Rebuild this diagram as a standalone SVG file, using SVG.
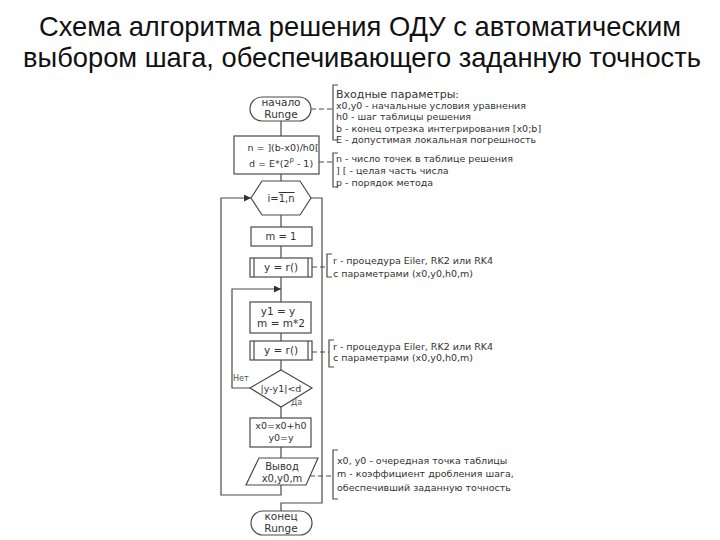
<svg xmlns="http://www.w3.org/2000/svg" width="720" height="540" viewBox="0 0 720 540">
<defs>
<marker id="arr" viewBox="0 0 8 8" refX="8" refY="4" markerWidth="7" markerHeight="7" orient="auto" markerUnits="userSpaceOnUse">
<path d="M0,0 L8,4 L0,8 z" fill="#333"/>
</marker>
<style>
.title{font-family:"Liberation Sans",Arial,sans-serif;font-size:27.3px;fill:#111;text-anchor:middle}
.shape{fill:#fff;stroke:#4a4a4a;stroke-width:1.2}
.ln{fill:none;stroke:#4a4a4a;stroke-width:1.2}
.dash{fill:none;stroke:#4a4a4a;stroke-width:1.1;stroke-dasharray:5 3}
.t{font-family:"DejaVu Sans","Liberation Sans",sans-serif;font-size:10px;fill:#333;text-anchor:middle}
.tb{font-family:"DejaVu Sans","Liberation Sans",sans-serif;font-size:10.5px;fill:#333;text-anchor:middle}
.ts{font-family:"DejaVu Sans","Liberation Sans",sans-serif;font-size:9.5px;fill:#333;text-anchor:middle}
.a{font-family:"DejaVu Sans","Liberation Sans",sans-serif;font-size:9.5px;fill:#333}
.ah{font-family:"DejaVu Sans","Liberation Sans",sans-serif;font-size:11px;fill:#333}
.lbl{font-family:"DejaVu Sans","Liberation Sans",sans-serif;font-size:8px;fill:#555}
</style>
</defs>
<rect width="720" height="540" fill="#fff"/>
<text class="title" x="360" y="36">Схема алгоритма решения ОДУ с автоматическим</text>
<text class="title" x="362" y="67">выбором шага, обеспечивающего заданную точность</text>

<g id="connectors">
<line class="ln" x1="281" y1="121" x2="281" y2="136"/>
<line class="ln" x1="281" y1="174" x2="281" y2="181"/>
<line class="ln" x1="281" y1="215" x2="281" y2="227"/>
<line class="ln" x1="281" y1="246" x2="281" y2="258"/>
<line class="ln" x1="281" y1="277" x2="281" y2="302"/>
<line class="ln" x1="281" y1="333" x2="281" y2="341"/>
<line class="ln" x1="281" y1="360" x2="281" y2="370"/>
<line class="ln" x1="281" y1="407" x2="281" y2="418"/>
<line class="ln" x1="281" y1="447" x2="281" y2="458"/>
<polyline class="ln" points="281,485 281,495 221,495 221,198 251,198" marker-end="url(#arr)"/>
<polyline class="ln" points="311,198 322,198 322,503 281,503 281,511"/>
<polyline class="ln" points="250,388 232,388 232,289 281,289" marker-end="url(#arr)"/>
<line class="dash" x1="311" y1="109" x2="333" y2="109"/>
<line class="dash" x1="319" y1="162" x2="333" y2="162"/>
<line class="dash" x1="312" y1="267" x2="327" y2="267"/>
<line class="dash" x1="312" y1="352" x2="329" y2="352"/>
<line class="dash" x1="310" y1="476" x2="333" y2="476"/>
<text class="lbl" x="233" y="381">Нет</text>
<text class="lbl" x="291" y="405">Да</text>
</g>

<g id="start">
<rect class="shape" x="250" y="97" width="61" height="24" rx="12"/>
<text class="tb" x="281" y="106">начало</text>
<text class="tb" x="281" y="118">Runge</text>
</g>
<g id="init">
<rect class="shape" x="234" y="136" width="85" height="38"/>
<text class="ts" x="283" y="151">n = ](b-x0)/h0[</text>
<text class="ts" x="281" y="167">d = E*(2<tspan dy="-5" font-size="7">p</tspan><tspan dy="5"> - 1)</tspan></text>
</g>
<g id="loop">
<polygon class="shape" points="251,198 262,181 300,181 311,198 300,215 262,215"/>
<text class="t" x="281" y="202">i=<tspan text-decoration="overline">1,n</tspan></text>
</g>
<g id="m1">
<rect class="shape" x="251" y="227" width="61" height="19"/>
<text class="t" x="281" y="240">m = 1</text>
</g>
<g id="call1">
<rect class="shape" x="250" y="258" width="62" height="19"/>
<line class="ln" x1="254" y1="258" x2="254" y2="277"/>
<line class="ln" x1="308" y1="258" x2="308" y2="277"/>
<text class="tb" x="281" y="271">y = r()</text>
</g>
<g id="halve">
<rect class="shape" x="250" y="302" width="61" height="31"/>
<text class="tb" x="278" y="315">y1 = y</text>
<text class="tb" x="281" y="327">m = m*2</text>
</g>
<g id="call2">
<rect class="shape" x="250" y="341" width="62" height="19"/>
<line class="ln" x1="254" y1="341" x2="254" y2="360"/>
<line class="ln" x1="308" y1="341" x2="308" y2="360"/>
<text class="tb" x="281" y="354">y = r()</text>
</g>
<g id="check">
<polygon class="shape" points="281,370 312,388 281,407 250,388"/>
<text class="ts" x="281" y="392">|y-y1|&lt;d</text>
</g>
<g id="step">
<rect class="shape" x="250" y="418" width="61" height="29"/>
<text class="ts" x="281" y="429">x0=x0+h0</text>
<text class="ts" x="281" y="441">y0=y</text>
</g>
<g id="output">
<polygon class="shape" points="259,458 318,458 306,485 246,485"/>
<text class="t" x="282" y="470">Вывод</text>
<text class="t" x="282" y="482">x0,y0,m</text>
</g>
<g id="end">
<rect class="shape" x="251" y="511" width="61" height="24" rx="12"/>
<text class="tb" x="281" y="520">конец</text>
<text class="tb" x="281" y="532">Runge</text>
</g>

<g id="note-input">
<path class="ln" d="M338,85 H333 V140 H338"/>
<text class="ah" x="336" y="98">Входные параметры:</text>
<text class="a" x="336" y="109">x0,y0 - начальные условия уравнения</text>
<text class="a" x="336" y="120">h0 - шаг таблицы решения</text>
<text class="a" x="336" y="131.5">b - конец отрезка интегрирования [x0;b]</text>
<text class="a" x="336" y="142.5">E - допустимая локальная погрешность</text>
</g>
<g id="note-n">
<path class="ln" d="M338,153 H333 V187 H338"/>
<text class="a" x="336" y="161.5">n - число точек в таблице решения</text>
<text class="a" x="336" y="173.5">] [ - целая часть числа</text>
<text class="a" x="336" y="185.5">p - порядок метода</text>
</g>
<g id="note-r1">
<path class="ln" d="M332,254 H327 V277 H332"/>
<text class="a" x="333" y="263.5">r - процедура  Eiler, RK2 или RK4</text>
<text class="a" x="333" y="276.5">с параметрами (x0,y0,h0,m)</text>
</g>
<g id="note-r2">
<path class="ln" d="M334,340 H329 V367 H334"/>
<text class="a" x="333" y="349.5">r - процедура Eiler, RK2 или RK4</text>
<text class="a" x="333" y="360.5">с параметрами (x0,y0,h0,m)</text>
</g>
<g id="note-out">
<path class="ln" d="M338,450 H333 V499 H338"/>
<text class="a" x="337" y="464">x0, y0 - очередная точка таблицы</text>
<text class="a" x="337" y="476.5">m - коэффициент дробления шага,</text>
<text class="a" x="337" y="491">обеспечивший заданную точность</text>
</g>
</svg>
